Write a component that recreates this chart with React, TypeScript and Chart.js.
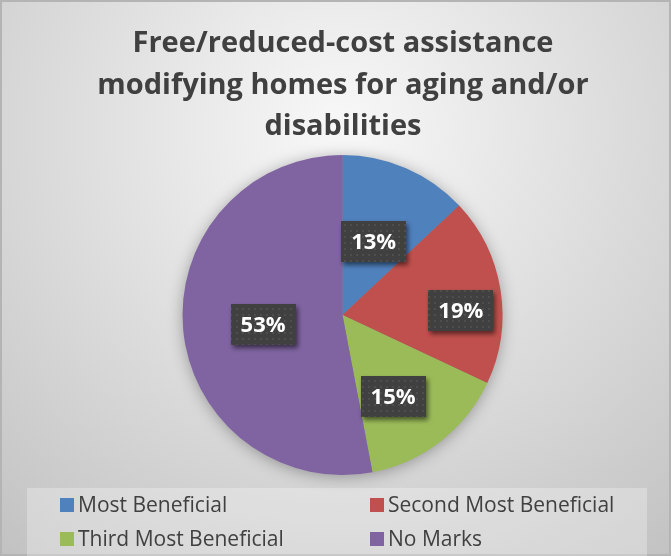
import React, { useEffect, useRef } from "react";
import { Chart, registerables } from "chart.js";

Chart.register(...registerables);

const titleLines = ["Free/reduced-cost assistance", "modifying homes for aging and/or", "disabilities"];
const categories = ["Most Beneficial", "Second Most Beneficial", "Third Most Beneficial", "No Marks"];
const shares = [13, 19, 15, 53];
const colors = ["#4F81BD", "#C0504D", "#9BBB59", "#8064A2"];
// label placement: [fraction of radius, angle offset in degrees]
const labelPlacement: [number, number][] = [
  [0.5, -0.5],
  [0.74, 6.8],
  [0.6, 6],
  [0.5, -1.7],
];

const W = 671;
const H = 556;
const FONT = "'Open Sans', 'Noto Sans', sans-serif";

function makePattern(ctx: CanvasRenderingContext2D) {
  const c = document.createElement("canvas");
  c.width = 6;
  c.height = 6;
  const p = c.getContext("2d")!;
  p.fillStyle = "#404040";
  p.fillRect(0, 0, 6, 6);
  p.fillStyle = "#4e4e4e";
  p.fillRect(2, 2, 2, 2);
  return ctx.createPattern(c, "repeat");
}

const decorPlugin = {
  id: "decor",
  beforeDraw(chart: any) {
    const ctx: CanvasRenderingContext2D = chart.ctx;
    ctx.save();
    const g = ctx.createRadialGradient(340, 130, 20, 340, 130, 560);
    g.addColorStop(0, "#f6f6f6");
    g.addColorStop(1, "#c0c0c0");
    ctx.fillStyle = g;
    ctx.fillRect(0, 0, W, H);
    ctx.strokeStyle = "#b4b4b4";
    ctx.lineWidth = 2;
    ctx.strokeRect(1, 1, W - 2, H - 2);
    // title
    ctx.fillStyle = "#404040";
    ctx.font = `bold 29px ${FONT}`;
    ctx.textAlign = "center";
    ctx.textBaseline = "middle";
    titleLines.forEach((t, i) => ctx.fillText(t, 343, 44 + i * 41.5));
    // legend
    ctx.fillStyle = "rgba(255,255,255,0.28)";
    ctx.fillRect(27, 488, 620, 68);
    ctx.font = `21px ${FONT}`;
    ctx.textAlign = "left";
    const cols = [60, 370];
    const rows = [505, 539];
    categories.forEach((c, i) => {
      const x = cols[i % 2];
      const y = rows[Math.floor(i / 2)];
      ctx.fillStyle = colors[i];
      ctx.fillRect(x, y - 7, 14, 14);
      ctx.fillStyle = "#404040";
      ctx.fillText(c, x + 18, y + 1);
    });
    ctx.restore();
  },
  beforeDatasetsDraw(chart: any) {
    const ctx: CanvasRenderingContext2D = chart.ctx;
    const arc = chart.getDatasetMeta(0).data[0];
    if (!arc) return;
    ctx.save();
    ctx.shadowColor = "rgba(0,0,0,0.35)";
    ctx.shadowBlur = 16;
    ctx.shadowOffsetY = 2;
    ctx.fillStyle = "#888";
    ctx.beginPath();
    ctx.arc(arc.x, arc.y, arc.outerRadius - 1, 0, Math.PI * 2);
    ctx.fill();
    ctx.restore();
  },
  afterDatasetsDraw(chart: any) {
    const ctx: CanvasRenderingContext2D = chart.ctx;
    const pattern = makePattern(ctx);
    const meta = chart.getDatasetMeta(0);
    const total = shares.reduce((a, b) => a + b, 0);
    ctx.save();
    ctx.font = `bold 22px ${FONT}`;
    ctx.textAlign = "center";
    ctx.textBaseline = "middle";
    meta.data.forEach((el: any, i: number) => {
      const [f, off] = labelPlacement[i];
      const mid = (el.startAngle + el.endAngle) / 2 + (off * Math.PI) / 180;
      const cx = el.x + Math.cos(mid) * el.outerRadius * f;
      const cy = el.y + Math.sin(mid) * el.outerRadius * f;
      const text = Math.round((shares[i] / total) * 100) + "%";
      const tw = ctx.measureText(text).width;
      const bw = tw + 20;
      const bh = 41;
      ctx.save();
      ctx.shadowColor = "rgba(0,0,0,0.55)";
      ctx.shadowBlur = 5;
      ctx.shadowOffsetX = 2;
      ctx.shadowOffsetY = 3;
      ctx.fillStyle = pattern || "#404040";
      ctx.fillRect(Math.round(cx - bw / 2), Math.round(cy - bh / 2), Math.round(bw), bh);
      ctx.restore();
      ctx.fillStyle = "#ffffff";
      ctx.fillText(text, cx, cy + 1);
    });
    ctx.restore();
  },
};

export default function App() {
  const ref = useRef<HTMLCanvasElement>(null);
  useEffect(() => {
    document.body.style.margin = "0";
    const chart = new Chart(ref.current!, {
      type: "pie",
      data: {
        labels: categories,
        datasets: [
          {
            data: shares,
            backgroundColor: colors,
            borderWidth: 0,
          },
        ],
      },
      options: {
        responsive: false,
        animation: false,
        layout: { padding: { top: 155, bottom: 81, left: 182.5, right: 168.5 } },
        plugins: {
          legend: { display: false },
          title: { display: false },
          tooltip: { enabled: false },
        },
      },
      plugins: [decorPlugin],
    });
    return () => chart.destroy();
  }, []);
  return (
    <div style={{ width: W, height: H }}>
      <canvas ref={ref} width={W} height={H} style={{ display: "block" }} />
    </div>
  );
}
